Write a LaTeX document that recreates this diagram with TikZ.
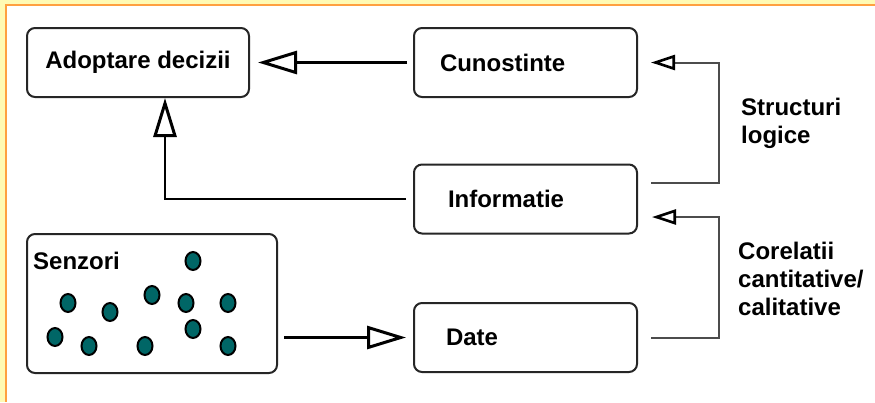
\documentclass[tikz,border=0pt]{standalone}
\usepackage{fontspec}
\setmainfont{Liberation Sans}
\usetikzlibrary{arrows.meta}
\definecolor{dotteal}{RGB}{0,102,102}
\definecolor{bandyellow}{RGB}{255,250,180}
\definecolor{bandorange}{RGB}{255,160,64}
\begin{document}
\begin{tikzpicture}[x=1pt,y=-1pt,
  box/.style={draw=black!85, line width=2pt, rounded corners=8pt,
    minimum width=223pt, minimum height=69pt, inner sep=0pt,
    font=\bfseries\fontsize{24}{28}\selectfont},
  lbl/.style={anchor=north west, inner sep=0pt, align=left,
    font=\bfseries\fontsize{24}{28}\selectfont},
  bigarrow/.style={line width=2.6pt,
    -{Triangle[open, length=39pt, width=23pt, line width=3pt 0]}},
  thinarrow/.style={draw=black!70, line width=2pt,
    -{Triangle[open, length=24pt, width=15pt, line width=2.6pt 0, color=black]}},
  sensor/.style={fill=dotteal, draw=black, line width=2pt}]
% background and frame
\fill[white] (0,0) rectangle (875,402);
\fill[bandyellow] (0,0) rectangle (875,4);
\fill[bandyellow] (0,0) rectangle (5,402);
\fill[bandorange] (5,4) rectangle (875,6);
\fill[bandorange] (5,4) rectangle (7,402);
\useasboundingbox (0,0) rectangle (875,402);
% boxes
\node[box, minimum width=222pt] (adopt) at (138,62.5) {Adoptare decizii};
\node[box, align=left, text width=171pt, inner xsep=26pt] (cun) at (525.5,62.5) {Cunostinte};
\node[box, align=left, text width=155pt, inner xsep=34pt] (info) at (525.5,199) {Informatie};
\node[box, align=left, text width=159pt, inner xsep=32pt] (date) at (525.5,337.5) {Date};
\node[box, minimum width=250pt, minimum height=139pt] (senz) at (152,303.5) {};
\node[lbl] (senzlbl) at (33,252) {Senzori};
% sensors
\foreach \p in {(193,261),(68,303),(110,312),(152,295),(186,303),(228,303),
                (55,337),(89,346),(145,346),(193,329),(228,346)}
  \draw[sensor] \p ellipse (7.5 and 9);
% connectors
\draw[bigarrow] ([xshift=-6pt]cun.west) -- ([xshift=8pt]adopt.east);
\coordinate (bend1) at (165,199);
\draw[bigarrow] ([xshift=-7pt]info.west) -- (bend1) -- (bend1 |- adopt.south);
\coordinate (s1) at ([xshift=6pt]senz.east);
\draw[bigarrow] (s1 |- date.west) -- ([xshift=-7pt]date.west);
\coordinate (r1) at (719,0);
\coordinate (lowin) at ([yshift=-18pt]info.east);
\coordinate (upin) at ([yshift=16pt]info.east);
\draw[thinarrow] ([xshift=13pt]date.east) -| (r1 |- lowin) -- ([xshift=14pt]lowin);
\draw[thinarrow] ([xshift=13pt]upin) -| (r1 |- cun.east) -- ([xshift=13pt]cun.east);
% labels
\node[lbl] (struct) at (741,98) {Structuri\\logice};
\node[lbl] (corel) at (738,242) {Corelatii\\cantitative/\\calitative};
\end{tikzpicture}
\end{document}
